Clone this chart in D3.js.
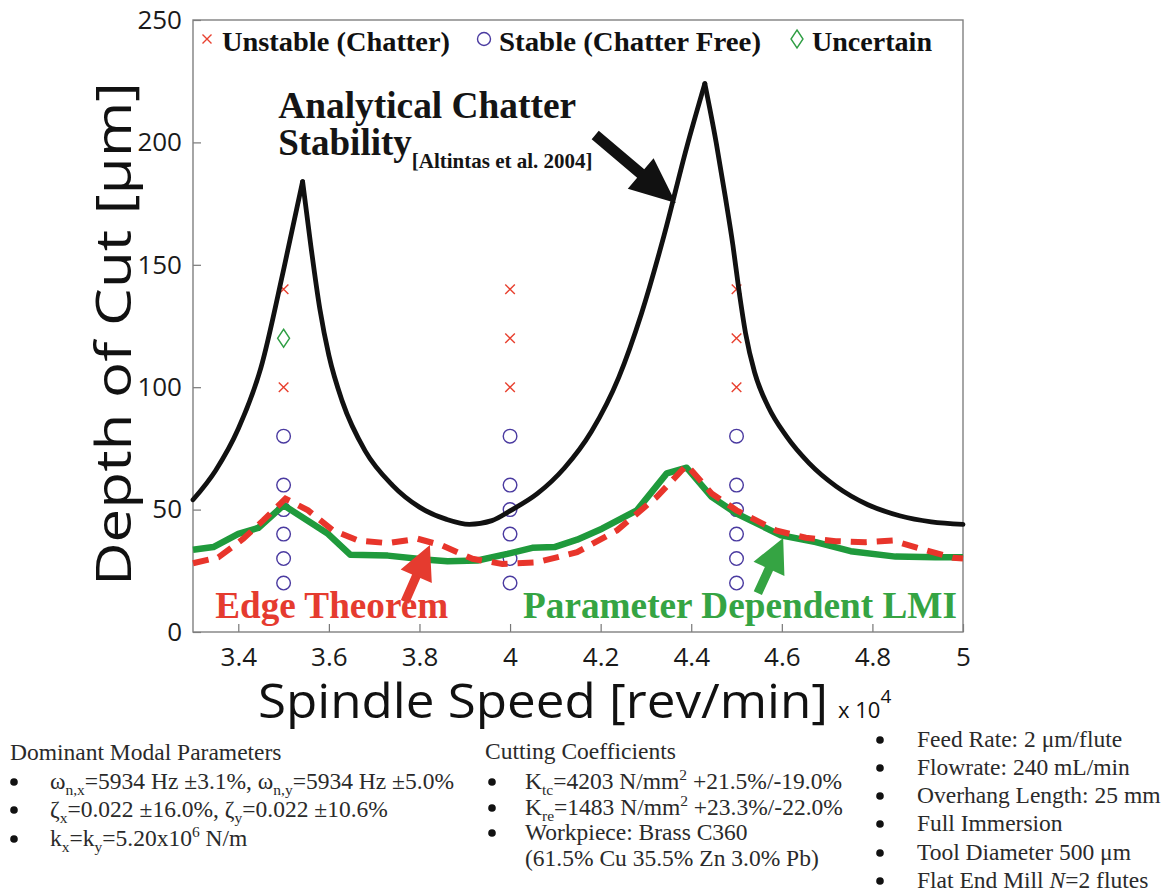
<!DOCTYPE html>
<html>
<head>
<meta charset="utf-8">
<script src="https://cdn.jsdelivr.net/npm/d3@7"></script>
<style>
  body { margin: 0; background: #fff; }
  svg { display: block; }
</style>
</head>
<body>
<svg id="chart" width="1167" height="895"></svg>
<script>
// ---- data (speed in x10^4 rev/min, depth in um) ----
const xTicks = [3.4, 3.6, 3.8, 4, 4.2, 4.4, 4.6, 4.8, 5];
const yTicks = [0, 50, 100, 150, 200, 250];

// analytical lobes (Altintas), split at the two cusps
const analyticalSpeed = [3.30, 3.35, 3.40, 3.45, 3.50, 3.542,
  3.56, 3.58, 3.60, 3.63, 3.68, 3.74, 3.80, 3.86, 3.91, 3.96, 4.00, 4.06, 4.12, 4.18, 4.24, 4.29, 4.34, 4.39, 4.43,
  4.455, 4.475, 4.492, 4.505, 4.52, 4.54, 4.57, 4.61, 4.66, 4.72, 4.79, 4.86, 4.93, 5.00];
const analyticalDepth = [54, 66, 83, 108, 148, 184,
  158, 132, 113, 94, 74, 60, 51, 46, 44, 45.5, 49.5, 56.5, 67, 82, 104, 130, 162, 198, 224,
  200, 178, 158, 140, 122, 106, 92, 80, 69, 59.5, 52, 47.5, 45, 44];
const cuspIndex = [5, 24];

const lmiSpeed = [3.30, 3.345, 3.40, 3.444, 3.50, 3.598, 3.647, 3.73, 3.818, 3.862, 3.928, 3.994,
  4.049, 4.098, 4.148, 4.203, 4.28, 4.346, 4.39, 4.445, 4.50, 4.598, 4.675, 4.752, 4.851, 4.939, 5.00];
const lmiDepth = [33.6, 34.7, 40.1, 42.5, 51.8, 40.1, 31.6, 31.2, 29.5, 28.9, 29.2, 31.9,
  34.4, 34.7, 37.7, 42.2, 49.7, 64.8, 67.1, 55.2, 48.4, 39.5, 36.7, 33.0, 30.8, 30.5, 30.5];

const edgeSpeed = [3.30, 3.356, 3.411, 3.455, 3.504, 3.554, 3.609, 3.664, 3.73, 3.796, 3.851, 3.917,
  3.983, 4.06, 4.148, 4.236, 4.324, 4.39, 4.445, 4.50, 4.587, 4.653, 4.719, 4.785, 4.845, 4.906, 4.978, 5.00];
const edgeDepth = [28.1, 30.5, 38.1, 45.6, 54.5, 49.7, 41.5, 37.4, 36.3, 38.1, 35.3, 29.9,
  27.8, 28.5, 32.6, 41.5, 55.2, 68.2, 56.6, 49.7, 41.5, 38.5, 37.1, 36.7, 37.4, 34.0, 30.3, 30.0];

// cutting tests
const unstableSpeed = [3.5, 3.5, 4, 4, 4, 4.5, 4.5, 4.5];
const unstableDepth = [140, 100, 140, 120, 100, 140, 120, 100];
const stableSpeed = [3.5, 3.5, 3.5, 3.5, 3.5, 3.5, 4, 4, 4, 4, 4, 4, 4.5, 4.5, 4.5, 4.5, 4.5, 4.5];
const stableDepth = [80, 60, 50, 40, 30, 20, 80, 60, 50, 40, 30, 20, 80, 60, 50, 40, 30, 20];
const uncertainSpeed = [3.5];
const uncertainDepth = [120];

const legendLabels = ['Unstable (Chatter)', 'Stable (Chatter Free)', 'Uncertain'];

const modalTitle = 'Dominant Modal Parameters';
const modalLines = [
  ['\u03c9', ['n,x', 'sub'], '=5934 Hz \u00b13.1%, \u03c9', ['n,y', 'sub'], '=5934 Hz \u00b15.0%'],
  ['\u03b6', ['x', 'sub'], '=0.022 \u00b116.0%, \u03b6', ['y', 'sub'], '=0.022 \u00b110.6%'],
  ['k', ['x', 'sub'], '=k', ['y', 'sub'], '=5.20x10', ['6', 'sup'], ' N/m']
];
const cuttingTitle = 'Cutting Coefficients';
const cuttingLines = [
  ['K', ['tc', 'sub'], '=4203 N/mm', ['2', 'sup'], ' +21.5%/-19.0%'],
  ['K', ['re', 'sub'], '=1483 N/mm', ['2', 'sup'], ' +23.3%/-22.0%'],
  ['Workpiece: Brass C360'],
  ['(61.5% Cu 35.5% Zn 3.0% Pb)']
];
const processLines = [
  ['Feed Rate: 2 \u03bcm/flute'],
  ['Flowrate: 240 mL/min'],
  ['Overhang Length: 25 mm'],
  ['Full Immersion'],
  ['Tool Diameter 500 \u03bcm'],
  ['Flat End Mill ', ['N', 'i'], '=2 flutes']
];

// ---- drawing ----
const svg = d3.select('#chart');
const margin = { top: 20, left: 193, right: 204, bottom: 263 };
const width = +svg.attr('width');
const height = +svg.attr('height');
const innerWidth = width - margin.left - margin.right;
const innerHeight = height - margin.top - margin.bottom;

const xScale = d3.scaleLinear().domain([3.3, 5]).range([0, innerWidth]);
const yScale = d3.scaleLinear().domain([0, 250]).range([innerHeight, 0]);

const g = svg.append('g').attr('transform', `translate(${margin.left},${margin.top})`);

const sans = '"Open Sans", "Noto Sans", sans-serif';
const serif = '"Liberation Serif", "Times New Roman", serif';

// axes (ticks point inward, like matlab)
const xAxis = g.append('g')
  .attr('transform', `translate(0,${innerHeight})`)
  .call(d3.axisBottom(xScale).tickValues(xTicks).tickSize(-8).tickPadding(16)
    .tickFormat(d => (d % 1 === 0 ? d3.format('d')(d) : d3.format('.1f')(d))));
const yAxis = g.append('g')
  .call(d3.axisLeft(yScale).tickValues(yTicks).tickSize(-8).tickPadding(11));
[xAxis, yAxis].forEach(a => {
  a.select('.domain').remove();
  a.selectAll('line').attr('stroke', '#777').attr('stroke-width', 1.2);
  a.selectAll('text').style('font-family', sans).style('font-size', '26px').attr('fill', '#1a1a1a');
});

// box
g.append('rect')
  .attr('width', innerWidth).attr('height', innerHeight)
  .attr('fill', 'none').attr('stroke', '#808080').attr('stroke-width', 1.4);

// markers
function crossPath(cx, cy, s) {
  return `M${cx - s},${cy - s}L${cx + s},${cy + s}M${cx - s},${cy + s}L${cx + s},${cy - s}`;
}
function diamondPath(cx, cy, w, h) {
  return `M${cx},${cy - h}L${cx + w},${cy}L${cx},${cy + h}L${cx - w},${cy}Z`;
}
const red = '#e8402f', purple = '#4a3aa0', green = '#2f9e44';

g.selectAll('.stable')
  .data(d3.zip(stableSpeed, stableDepth))
  .enter().append('circle')
  .attr('class', 'stable')
  .attr('cx', d => xScale(d[0])).attr('cy', d => yScale(d[1]))
  .attr('r', 6.8).attr('fill', 'none').attr('stroke', purple).attr('stroke-width', 1.4);
g.selectAll('.unstable')
  .data(d3.zip(unstableSpeed, unstableDepth))
  .enter().append('path')
  .attr('class', 'unstable')
  .attr('d', d => crossPath(xScale(d[0]), yScale(d[1]), 4.8))
  .attr('stroke', red).attr('stroke-width', 1.4).attr('fill', 'none');
g.selectAll('.uncertain')
  .data(d3.zip(uncertainSpeed, uncertainDepth))
  .enter().append('path')
  .attr('class', 'uncertain')
  .attr('d', d => diamondPath(xScale(d[0]), yScale(d[1]), 6, 9))
  .attr('stroke', green).attr('stroke-width', 1.4).attr('fill', 'none');

// analytical curve: each branch drawn separately so the cusps stay sharp
const analytical = d3.zip(analyticalSpeed, analyticalDepth);
const branchLine = d3.line().x(d => xScale(d[0])).y(d => yScale(d[1])).curve(d3.curveMonotoneX);
const cuts = [0, ...cuspIndex, analytical.length - 1];
for (let i = 0; i < cuts.length - 1; i++) {
  g.append('path')
    .datum(analytical.slice(cuts[i], cuts[i + 1] + 1))
    .attr('d', branchLine)
    .attr('fill', 'none').attr('stroke', '#111').attr('stroke-width', 4.8)
    .attr('stroke-linecap', 'round');
}

const polyLine = d3.line().x(d => xScale(d[0])).y(d => yScale(d[1]));
g.append('path')
  .datum(d3.zip(lmiSpeed, lmiDepth))
  .attr('d', polyLine)
  .attr('fill', 'none').attr('stroke', '#1f9a3c').attr('stroke-width', 6.5)
  .attr('stroke-linejoin', 'round');
g.append('path')
  .datum(d3.zip(edgeSpeed, edgeDepth))
  .attr('d', polyLine)
  .attr('fill', 'none').attr('stroke', '#e8352b').attr('stroke-width', 6)
  .attr('stroke-dasharray', '16,10');

// legend inside the top of the box
const legendX = [14, 291, 604];
const legendW = [228, 262, 120];
const legend = g.append('g').attr('transform', 'translate(0,31)');
legend.append('path').attr('d', crossPath(legendX[0], -12, 4.5))
  .attr('stroke', red).attr('stroke-width', 1.4);
legend.append('circle').attr('cx', legendX[1]).attr('cy', -12).attr('r', 6.5)
  .attr('fill', 'none').attr('stroke', purple).attr('stroke-width', 1.4);
legend.append('path').attr('d', diamondPath(legendX[2], -12, 6, 9))
  .attr('fill', 'none').attr('stroke', green).attr('stroke-width', 1.4);
legend.selectAll('.legtext')
  .data(legendLabels)
  .enter().append('text')
  .attr('x', (d, i) => legendX[i] + 15)
  .attr('y', 0)
  .attr('textLength', (d, i) => legendW[i]).attr('lengthAdjust', 'spacingAndGlyphs')
  .style('font-family', serif).style('font-weight', 'bold').style('font-size', '28px')
  .attr('fill', '#111')
  .text(d => d);

// annotations
function arrowPath(x0, y0, x1, y1, shaft, headLen, headW) {
  const L = Math.hypot(x1 - x0, y1 - y0);
  const ux = (x1 - x0) / L, uy = (y1 - y0) / L, nx = -uy, ny = ux;
  const bx = x1 - ux * headLen, by = y1 - uy * headLen;
  const pts = [
    [x0 + nx * shaft / 2, y0 + ny * shaft / 2],
    [bx + nx * shaft / 2, by + ny * shaft / 2],
    [bx + nx * headW / 2, by + ny * headW / 2],
    [x1, y1],
    [bx - nx * headW / 2, by - ny * headW / 2],
    [bx - nx * shaft / 2, by - ny * shaft / 2],
    [x0 - nx * shaft / 2, y0 - ny * shaft / 2]
  ];
  return 'M' + pts.map(p => p.join(',')).join('L') + 'Z';
}
function arrow(from, to, color, shaft, headLen, headW) {
  g.append('path')
    .attr('d', arrowPath(xScale(from[0]), yScale(from[1]), xScale(to[0]), yScale(to[1]), shaft, headLen, headW))
    .attr('fill', color);
}
arrow([4.188, 203], [4.366, 175.2], '#111', 11, 46, 40);
arrow([3.768, 12.3], [3.823, 35.5], '#e53b2f', 9, 34, 34);
arrow([4.547, 15.9], [4.603, 38.4], '#35a443', 9, 34, 34);

const title = g.append('g')
  .style('font-family', serif).style('font-weight', 'bold').attr('fill', '#151515');
title.append('text')
  .attr('x', xScale(3.488)).attr('y', yScale(210))
  .attr('textLength', 298).attr('lengthAdjust', 'spacingAndGlyphs')
  .style('font-size', '37px').text('Analytical Chatter');
const stab = title.append('text')
  .attr('x', xScale(3.488)).attr('y', yScale(194.9))
  .style('font-size', '37px');
stab.append('tspan').text('Stability');
stab.append('tspan').attr('dy', 13).style('font-size', '21px').text('[Altintas et al. 2004]');

g.append('text')
  .attr('x', xScale(3.349)).attr('y', yScale(5.7))
  .attr('textLength', 233).attr('lengthAdjust', 'spacingAndGlyphs')
  .style('font-family', serif).style('font-weight', 'bold').style('font-size', '37px')
  .attr('fill', '#e53b2f').text('Edge Theorem');
g.append('text')
  .attr('x', xScale(4.0286)).attr('y', yScale(5.7))
  .attr('textLength', 434).attr('lengthAdjust', 'spacingAndGlyphs')
  .style('font-family', serif).style('font-weight', 'bold').style('font-size', '37px')
  .attr('fill', '#35a443').text('Parameter Dependent LMI');

// axis titles
g.append('text')
  .attr('x', 65).attr('y', innerHeight + 86)
  .attr('textLength', 570).attr('lengthAdjust', 'spacingAndGlyphs')
  .style('font-family', sans).style('font-size', '48px').attr('fill', '#111')
  .text('Spindle Speed [rev/min]');
const mult = g.append('text')
  .attr('x', 645).attr('y', innerHeight + 86)
  .style('font-family', sans).style('font-size', '22px').attr('fill', '#111');
mult.append('tspan').text('x 10');
mult.append('tspan').attr('dy', -15).style('font-size', '19px').text('4');

g.append('text')
  .attr('transform', `translate(-62,${innerHeight / 2 + 8}) rotate(-90)`)
  .attr('text-anchor', 'middle')
  .attr('textLength', 504).attr('lengthAdjust', 'spacingAndGlyphs')
  .style('font-family', sans).style('font-size', '50px').attr('fill', '#111')
  .text('Depth of Cut [\u03bcm]');

// ---- parameter notes under the chart ----
function richLine(sel, x, y, parts, size) {
  const t = sel.append('text').attr('x', x).attr('y', y).style('font-size', size + 'px');
  let shift = 0;
  parts.forEach(p => {
    const [str, kind] = typeof p === 'string' ? [p, ''] : p;
    const target = kind === 'sub' ? size * 0.26 : kind === 'sup' ? -size * 0.4 : 0;
    const ts = t.append('tspan').attr('dy', target - shift).text(str);
    if (kind === 'sub' || kind === 'sup') ts.style('font-size', (size * 0.66) + 'px');
    if (kind === 'i') ts.style('font-style', 'italic');
    shift = target;
  });
  return t;
}
function noteBlock(x, bulletX, textX, titleText, lines, baselines) {
  const b = svg.append('g').style('font-family', serif).attr('fill', '#2a2a2a');
  let row = 0;
  if (titleText) {
    b.append('text').attr('x', x).attr('y', baselines[0]).style('font-size', '23.5px').text(titleText);
    row = 1;
  }
  lines.forEach((parts, i) => {
    const y = baselines[row + i];
    if (!(parts.length === 1 && parts[0].startsWith('(61'))) {
      b.append('circle').attr('cx', bulletX + 4).attr('cy', y - 7).attr('r', 3.8).attr('fill', '#111');
    }
    richLine(b, textX, y, parts, 23.5);
  });
}
noteBlock(10, 10, 50, modalTitle, modalLines, [760, 789, 817, 846]);
noteBlock(485, 488, 525, cuttingTitle, cuttingLines, [759, 789, 815, 840, 866]);
noteBlock(0, 876, 917, null, processLines, [747, 775, 803, 831, 860, 888]);
</script>
</body>
</html>
